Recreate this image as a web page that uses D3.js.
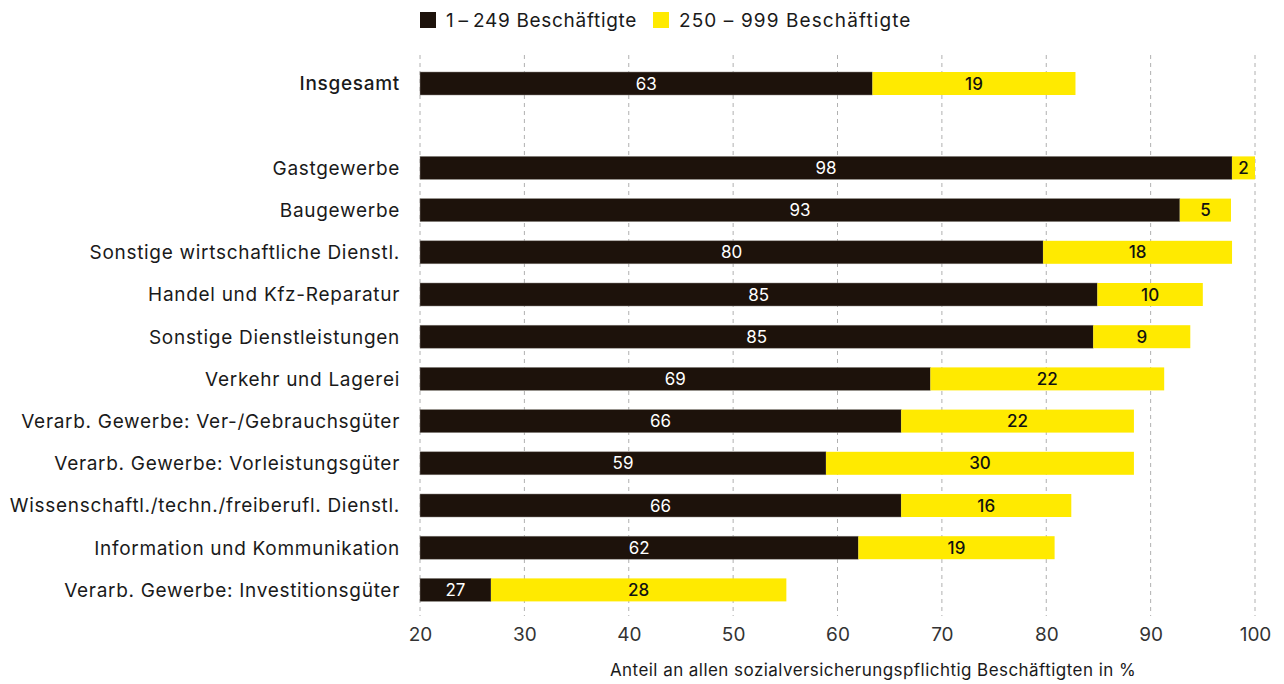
<!DOCTYPE html>
<html>
<head>
<meta charset="utf-8">
<script src="https://cdn.jsdelivr.net/npm/d3@7"></script>
<style>
  body { margin: 0; background: #fff; }
  svg { display: block; font-family: Inter, "Noto Sans", sans-serif; }
</style>
</head>
<body>
<svg id="chart" width="1284" height="684"></svg>
<script>
// categories top to bottom, "" is the empty gap row
const categories = [
  "Insgesamt", "",
  "Gastgewerbe",
  "Baugewerbe",
  "Sonstige wirtschaftliche Dienstl.",
  "Handel und Kfz-Reparatur",
  "Sonstige Dienstleistungen",
  "Verkehr und Lagerei",
  "Verarb. Gewerbe: Ver-/Gebrauchsgüter",
  "Verarb. Gewerbe: Vorleistungsgüter",
  "Wissenschaftl./techn./freiberufl. Dienstl.",
  "Information und Kommunikation",
  "Verarb. Gewerbe: Investitionsgüter"
];
const small = [63.35, null, 97.8, 92.8, 79.7, 84.9, 84.5, 68.9, 66.1, 58.9, 66.1, 62.0, 26.8];
const medium = [19.45, null, 2.2, 4.9, 18.1, 10.1, 9.3, 22.4, 22.3, 29.5, 16.3, 18.8, 28.3];
const smallLabels = ["63", "", "98", "93", "80", "85", "85", "69", "66", "59", "66", "62", "27"];
const mediumLabels = ["19", "", "2", "5", "18", "10", "9", "22", "22", "30", "16", "19", "28"];
const seriesNames = ["1\u2009\u2013\u2009249 Beschäftigte", "250 \u2013 999 Beschäftigte"];
const xTicks = [20, 30, 40, 50, 60, 70, 80, 90, 100];
const axisTitle = "Anteil an allen sozialversicherungspflichtig Beschäftigten in %";

const dark = "#1d120b", yellow = "#ffea00";
const font = "Inter, 'Noto Sans', sans-serif";

const svg = d3.select("#chart");
const x = d3.scaleLinear().domain([20, 100]).range([420, 1255]);
const y = d3.scaleBand().domain(d3.range(categories.length)).range([62.4, 611]).paddingInner(0.455).paddingOuter(0.2275);

// grid
svg.append("g").selectAll("line").data(xTicks).join("line")
  .attr("x1", d => x(d)).attr("x2", d => x(d))
  .attr("y1", 55).attr("y2", 616)
  .attr("stroke", "#b0b0b0").attr("stroke-width", 1)
  .attr("stroke-dasharray", "4,4");

const rows = categories.map((c, i) => ({c, i, a: small[i], b: medium[i], la: smallLabels[i], lb: mediumLabels[i]}))
  .filter(d => d.c !== "");

// bars: stacked from 0, axis starts at 20
const g = svg.append("g");
g.selectAll("rect.s").data(rows).join("rect")
  .attr("x", x(20)).attr("y", d => y(d.i))
  .attr("width", d => x(d.a) - x(20)).attr("height", y.bandwidth())
  .attr("fill", dark).attr("stroke", "#8a8580").attr("stroke-width", 0.5);
g.selectAll("rect.m").data(rows).join("rect")
  .attr("x", d => x(d.a)).attr("y", d => y(d.i))
  .attr("width", d => x(d.a + d.b) - x(d.a)).attr("height", y.bandwidth())
  .attr("fill", yellow);

// value labels
g.selectAll("text.s").data(rows).join("text")
  .attr("x", d => (x(20) + x(d.a)) / 2)
  .attr("y", d => y(d.i) + y.bandwidth() / 2)
  .attr("dy", "0.36em").attr("text-anchor", "middle")
  .attr("fill", "#fff").attr("font-size", 17)
  .text(d => d.la);
g.selectAll("text.m").data(rows).join("text")
  .attr("x", d => (x(d.a) + x(d.a + d.b)) / 2)
  .attr("y", d => y(d.i) + y.bandwidth() / 2)
  .attr("dy", "0.36em").attr("text-anchor", "middle")
  .attr("fill", "#111").attr("font-size", 17).attr("font-weight", 500)
  .text(d => d.lb);

// category labels
svg.append("g").selectAll("text").data(rows).join("text")
  .attr("x", 400).attr("y", d => y(d.i) + y.bandwidth() / 2)
  .attr("dy", "0.36em").attr("text-anchor", "end")
  .attr("fill", "#1a1a1a").attr("font-size", 19).attr("letter-spacing", 0.7)
  .attr("font-weight", d => d.i === 0 ? 500 : 400)
  .text(d => d.c);

// x axis
const ax = svg.append("g").attr("transform", "translate(0,620)")
  .call(d3.axisBottom(x).tickValues(xTicks).tickSize(0).tickPadding(8));
ax.select(".domain").remove();
ax.selectAll("text").attr("font-size", 19).attr("fill", "#333").attr("font-family", font);

svg.append("text").attr("x", 873).attr("y", 676).attr("text-anchor", "middle")
  .attr("font-size", 17).attr("letter-spacing", 0.45).attr("fill", "#1a1a1a").text(axisTitle);

// legend
const leg = svg.append("g");
const legX = [420, 653];
seriesNames.forEach((n, i) => {
  leg.append("rect").attr("x", legX[i]).attr("y", 12).attr("width", 16).attr("height", 16)
    .attr("fill", i === 0 ? dark : yellow);
  leg.append("text").attr("x", legX[i] + 26).attr("y", 20).attr("dy", "0.36em")
    .attr("font-size", 19).attr("letter-spacing", i === 0 ? 0.7 : 1.1).attr("fill", "#1a1a1a").text(n);
});
</script>
</body>
</html>
